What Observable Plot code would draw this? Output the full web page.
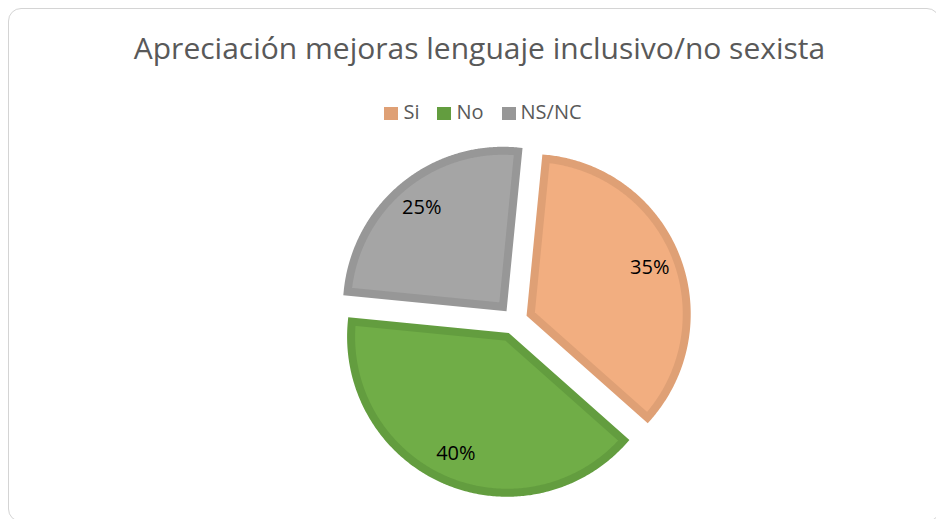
<!DOCTYPE html>
<html><head><meta charset="utf-8">
<script src="https://cdn.jsdelivr.net/npm/d3@7"></script>
<script src="https://cdn.jsdelivr.net/npm/@observablehq/plot@0.6"></script>
<style>
html,body{margin:0;padding:0;width:936px;height:519px;overflow:hidden;background:#fff;font-family:"Open Sans",sans-serif;}
#frame{position:absolute;left:8px;top:8px;width:932px;height:514px;border:1px solid #d4d4d4;border-radius:13px;box-sizing:border-box;}
#title{position:absolute;left:0;top:28px;width:959px;text-align:center;font-size:30px;line-height:40px;color:#595959;white-space:nowrap;}
#legend{position:absolute;left:0;top:98px;width:966px;display:flex;justify-content:center;font-size:20px;line-height:28px;color:#595959;}
.item{display:flex;align-items:center;margin:0 9px;}
.sw{width:14px;height:13px;margin-right:5px;margin-top:2px;}
#chart{position:absolute;left:0;top:135px;}
</style></head><body>
<div id="frame"></div>
<div id="title"></div>
<div id="legend"></div>
<div id="chart"></div>
<script>
// ---- data ----
const title = "Apreciación mejoras lenguaje inclusivo/no sexista";
const categories = ["Si", "No", "NS/NC"];
const values = [35, 40, 25];
const valueLabels = ["35%", "40%", "25%"];

// ---- styles ----
const fillColors = ["#F2AE80", "#70AD47", "#A5A5A5"];
const strokeColors = ["#DFA075", "#639D3F", "#979797"];

// ---- layout ----
const W = 936, H = 384;
const R = 156;              // pie radius in px
const cx = 513.7, cy = 185; // pie centre in svg px
const explode = 17.75 / R;
const startAngle = 5.6 * Math.PI / 180;

document.getElementById("title").textContent = title;
const lg = document.getElementById("legend");
categories.forEach((c, i) => {
  const it = document.createElement("div"); it.className = "item";
  const sw = document.createElement("div"); sw.className = "sw"; sw.style.background = strokeColors[i];
  const tx = document.createElement("span"); tx.textContent = c;
  it.appendChild(sw); it.appendChild(tx); lg.appendChild(it);
});

const arcs = d3.pie().sort(null).startAngle(startAngle).endAngle(startAngle + 2 * Math.PI)(values);

const slices = arcs.map((a, i) => {
  const mid = (a.startAngle + a.endAngle) / 2;
  const ox = explode * Math.sin(mid), oy = explode * Math.cos(mid);
  const pts = [];
  const n = 120;
  const pt = t => ({x: ox + Math.sin(t), y: oy + Math.cos(t)});
  for (let k = 0; k <= n; k++) pts.push(pt(mid + (a.endAngle - mid) * k / n));
  pts.push({x: ox, y: oy});
  for (let k = 0; k <= n; k++) pts.push(pt(a.startAngle + (mid - a.startAngle) * k / n));
  const lr = 0.82;
  return {pts, label: {x: ox + lr * Math.sin(mid), y: oy + lr * Math.cos(mid), text: valueLabels[i]}};
});

const xDomain = [-cx / R, (W - cx) / R];
const yDomain = [-(H - cy) / R, cy / R];

const marks = [];
slices.forEach((s, i) => {
  marks.push(Plot.line(s.pts, {x: "x", y: "y", fill: fillColors[i], stroke: strokeColors[i], strokeWidth: 8, strokeLinejoin: "miter", strokeMiterlimit: 10}));
});
marks.push(Plot.text(slices.map(s => s.label), {x: "x", y: "y", text: "text", fontSize: 20, fill: "#000", fontFamily: "Open Sans"}));

const chart = Plot.plot({
  width: W, height: H, margin: 0,
  x: {domain: xDomain, axis: null},
  y: {domain: yDomain, axis: null},
  style: {background: "transparent", fontFamily: "Open Sans"},
  marks
});
document.getElementById("chart").appendChild(chart);
</script></body></html>
